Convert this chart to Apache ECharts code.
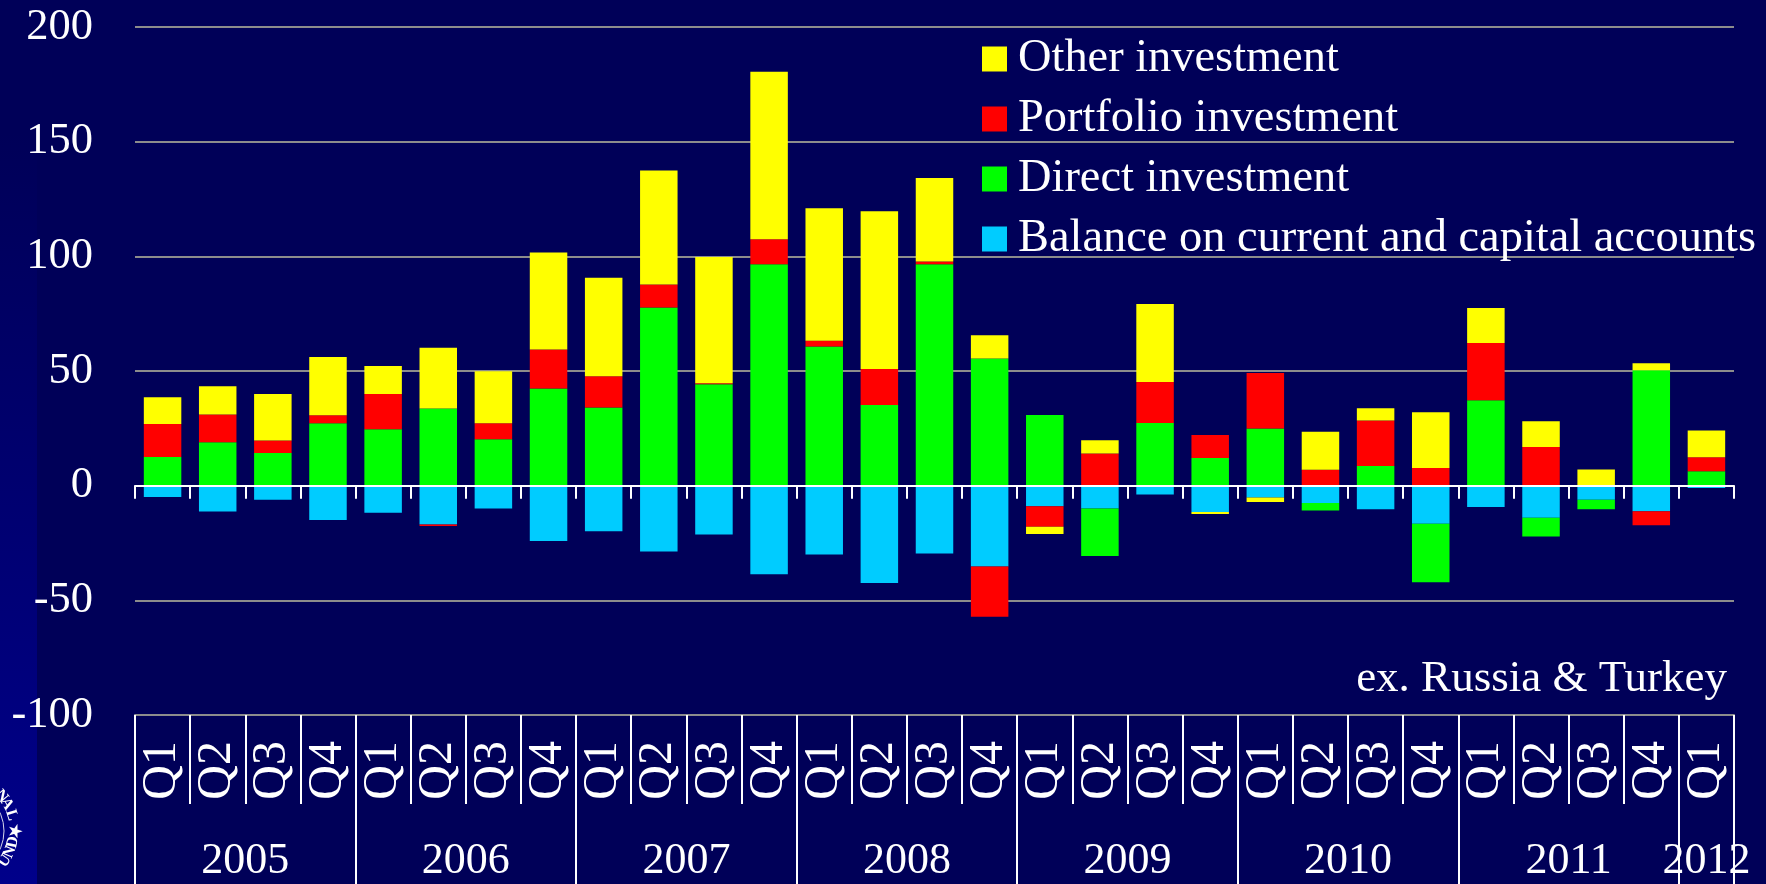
<!DOCTYPE html>
<html>
<head>
<meta charset="utf-8">
<style>
  html, body { margin: 0; padding: 0; background: #000058; }
  #chart { width: 1766px; height: 884px; }
</style>
<script src="https://cdn.jsdelivr.net/npm/echarts@6/dist/echarts.min.js"></script>
</head>
<body>
<div id="chart"></div>
<script>
const quarters = [
  'Q1', 'Q2', 'Q3', 'Q4', 'Q1', 'Q2', 'Q3', 'Q4', 'Q1', 'Q2',
  'Q3', 'Q4', 'Q1', 'Q2', 'Q3', 'Q4', 'Q1', 'Q2', 'Q3', 'Q4',
  'Q1', 'Q2', 'Q3', 'Q4', 'Q1', 'Q2', 'Q3', 'Q4', 'Q1'
]
const years = ['2005', '2006', '2007', '2008', '2009', '2010', '2011', '2012']
const yearStarts = [0, 4, 8, 12, 16, 20, 24, 28, 29]
const yearCenters = [2, 6, 10, 14, 18, 22, 26, 28.5]

const balance = [
  -4.9, -11.3, -6.1, -15, -11.8, -16.9, -10, -24.1, -19.9, -28.7,
  -21.3, -38.6, -30, -42.4, -29.6, -35.2, -9, -10, -3.8, -11.5,
  -5.2, -7.6, -10.3, -16.6, -9.3, -14, -6.1, -11.2, -1
]
const direct = [
  12.5, 18.9, 14.2, 27.2, 24.6, 33.6, 20.2, 42.4, 34.1, 77.7,
  44.2, 96.6, 60.7, 35.2, 96.6, 55.5, 30.8, -20.7, 27.3, 12.1,
  24.9, -3.2, 8.6, -25.5, 37.3, -8.2, -4.2, 50.3, 6.3
]
const portfolio = [
  14.4, 12.1, 5.5, 3.5, 15.4, -0.7, 7, 17, 13.6, 10,
  0.5, 10.9, 2.5, 15.7, 1.2, -22, -8.9, 14, 17.9, 10,
  24.2, 6.9, 19.8, 7.7, 24.9, 16.9, 0, -6.1, 6.1
]
const other = [
  11.6, 12.4, 20.3, 25.4, 12.2, 26.5, 22.7, 42.3, 43, 49.7,
  55, 73, 57.8, 68.8, 36.4, 10.1, -3.2, 5.8, 34, -0.9,
  -1.9, 16.6, 5.4, 24.3, 15.3, 11.2, 7, 3.1, 11.7
]

// seal letters cut off by the left edge: [char, angle in degrees, reads clockwise]
const sealLetters = [
  ['N', -40, true], ['A', -30, true], ['L', -17, true], ['★', 0, true],
  ['D', 12, false], ['N', 23, false], ['U', 34, false]
]

const font = '"Liberation Serif", serif'
const chart = echarts.init(document.getElementById('chart'))

function barSeries(name, data, color) {
  return {
    name: name,
    type: 'bar',
    stack: 'flows',
    barCategoryGap: '32%',
    itemStyle: { color: color },
    data: data
  }
}

function sealText() {
  return sealLetters.map(function (l) {
    const a = l[1] * Math.PI / 180
    return {
      type: 'text',
      silent: true,
      x: -40 + 54 * Math.cos(a),
      y: 831 + 54 * Math.sin(a),
      rotation: (l[2] ? -(l[1] + 90) : 90 - l[1]) * Math.PI / 180,
      style: { text: l[0], fill: '#fff', font: 'bold 16px ' + font, align: 'center', verticalAlign: 'middle' }
    }
  })
}

chart.setOption({
  backgroundColor: '#000058',
  animation: false,
  textStyle: { fontFamily: font },
  graphic: [
    {
      type: 'rect',
      z: -1,
      silent: true,
      shape: { x: 0, y: 0, width: 37, height: 884 },
      style: {
        fill: new echarts.graphic.LinearGradient(0, 0, 0, 1, [
          { offset: 0.15, color: '#000058' },
          { offset: 1, color: '#00008a' }
        ])
      }
    },
    {
      type: 'circle',
      silent: true,
      shape: { cx: -40, cy: 831, r: 44 },
      style: { fill: 'none', stroke: '#d8d8e8', lineWidth: 1 }
    },
    {
      type: 'text',
      silent: true,
      x: 1727,
      y: 679,
      style: {
        text: 'ex. Russia & Turkey',
        fill: '#fff',
        font: '45px ' + font,
        align: 'right',
        verticalAlign: 'middle'
      }
    }
  ].concat(sealText()),
  legend: {
    left: 982,
    top: 33,
    padding: 0,
    orient: 'vertical',
    icon: 'rect',
    itemWidth: 25,
    itemHeight: 25,
    itemGap: 8,
    selectedMode: false,
    textStyle: { color: '#fff', fontSize: 46.4, fontFamily: font, padding: [2, 0, 0, 6], height: 50, lineHeight: 50 },
    data: ['Other investment', 'Portfolio investment', 'Direct investment', 'Balance on current and capital accounts']
  },
  grid: { left: 135, right: 32, top: 27, height: 688, containLabel: false },
  xAxis: [
    {
      type: 'category',
      data: quarters,
      z: 5,
      axisLine: { onZero: true, lineStyle: { color: '#fff', width: 2 } },
      axisTick: { show: true, length: 13, lineStyle: { color: '#fff', width: 2 } },
      axisLabel: { show: false }
    },
    {
      type: 'category',
      position: 'bottom',
      data: quarters,
      axisLine: { onZero: false, lineStyle: { color: '#8c8c8c', width: 2 } },
      axisTick: { show: true, length: 89, lineStyle: { color: '#fff', width: 2 } },
      axisLabel: { color: '#fff', fontSize: 48, fontFamily: font, rotate: 90, margin: 26, interval: 0 }
    },
    {
      type: 'value',
      position: 'bottom',
      min: 0,
      max: 29,
      splitLine: { show: false },
      axisLine: { show: false },
      axisTick: { show: true, length: 169, customValues: yearStarts, lineStyle: { color: '#fff', width: 2 } },
      axisLabel: {
        color: '#fff',
        fontSize: 44,
        fontFamily: font,
        margin: 124,
        customValues: yearCenters,
        hideOverlap: false,
        showMinLabel: true,
        showMaxLabel: true,
        formatter: function (v) {
          return years[yearCenters.indexOf(v)]
        }
      }
    }
  ],
  yAxis: {
    type: 'value',
    min: -100,
    max: 200,
    interval: 50,
    axisLine: { show: false },
    axisTick: { show: false },
    axisLabel: { color: '#fff', fontSize: 44.5, fontFamily: font, margin: 42 },
    splitLine: { lineStyle: { color: '#8c8c8c', width: 2 } }
  },
  series: [
    barSeries('Balance on current and capital accounts', balance, '#00ccff'),
    barSeries('Direct investment', direct, '#00ff00'),
    barSeries('Portfolio investment', portfolio, '#ff0000'),
    barSeries('Other investment', other, '#ffff00')
  ]
})
</script>
</body>
</html>
